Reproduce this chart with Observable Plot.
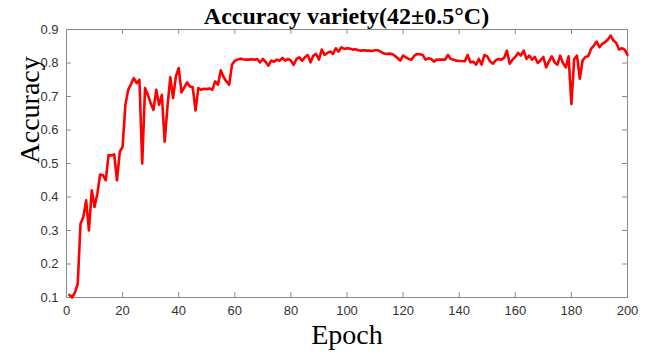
<!DOCTYPE html>
<html>
<head>
<meta charset="utf-8">
<script src="https://cdn.jsdelivr.net/npm/d3@7"></script>
<script src="https://cdn.jsdelivr.net/npm/@observablehq/plot@0.6"></script>
<style>
  html, body { margin: 0; padding: 0; background: #fff; }
  body { position: relative; width: 657px; height: 354px; }
  #title { position: absolute; left: 66px; top: 4px; width: 561px; height: 24px; line-height: 24px; text-align: center;
           font-family: "Liberation Serif", serif; font-weight: bold; font-size: 24px; color: #000; }
  #chart { position: absolute; left: 0; top: 0; }
</style>
</head>
<body>
<div id="chart"></div>
<div id="title"></div>
<script>
const titleText = "Accuracy variety(42±0.5°C)";
const xLabel = "Epoch";
const yLabel = "Accuracy";
const xTicks = [0, 20, 40, 60, 80, 100, 120, 140, 160, 180, 200];
const yTicks = [0.1, 0.2, 0.3, 0.4, 0.5, 0.6, 0.7, 0.8, 0.9];

const epochs = d3.range(1, 201);
const accuracy = [
  0.108, 0.100, 0.115, 0.140, 0.320, 0.340, 0.390, 0.300, 0.420, 0.370,
  0.410, 0.467, 0.465, 0.450, 0.525, 0.524, 0.527, 0.450, 0.535, 0.550,
  0.675, 0.720, 0.737, 0.755, 0.740, 0.750, 0.500, 0.725, 0.705, 0.680,
  0.660, 0.720, 0.675, 0.705, 0.565, 0.670, 0.757, 0.695, 0.760, 0.785,
  0.712, 0.727, 0.742, 0.730, 0.728, 0.658, 0.725, 0.720, 0.723, 0.722,
  0.724, 0.720, 0.745, 0.735, 0.778, 0.758, 0.745, 0.735, 0.795, 0.807,
  0.810, 0.813, 0.811, 0.810, 0.810, 0.811, 0.810, 0.812, 0.802, 0.812,
  0.803, 0.792, 0.807, 0.804, 0.810, 0.807, 0.815, 0.807, 0.812, 0.807,
  0.794, 0.812, 0.817, 0.807, 0.817, 0.824, 0.802, 0.822, 0.827, 0.810,
  0.840, 0.824, 0.830, 0.834, 0.827, 0.844, 0.834, 0.847, 0.842, 0.844,
  0.843, 0.840, 0.841, 0.838, 0.837, 0.838, 0.837, 0.837, 0.836, 0.838,
  0.838, 0.834, 0.829, 0.827, 0.828, 0.827, 0.822, 0.815, 0.807, 0.822,
  0.817, 0.812, 0.810, 0.822, 0.827, 0.826, 0.824, 0.810, 0.814, 0.812,
  0.804, 0.810, 0.810, 0.810, 0.810, 0.824, 0.812, 0.810, 0.807, 0.806,
  0.806, 0.805, 0.824, 0.802, 0.804, 0.795, 0.812, 0.795, 0.824, 0.820,
  0.805, 0.798, 0.808, 0.812, 0.810, 0.815, 0.837, 0.798, 0.810, 0.818,
  0.830, 0.822, 0.837, 0.812, 0.822, 0.810, 0.818, 0.800, 0.808, 0.818,
  0.787, 0.805, 0.820, 0.802, 0.795, 0.822, 0.800, 0.787, 0.820, 0.678,
  0.812, 0.822, 0.753, 0.808, 0.818, 0.820, 0.842, 0.852, 0.864, 0.847,
  0.857, 0.862, 0.870, 0.882, 0.867, 0.860, 0.840, 0.844, 0.840, 0.824
];

document.getElementById("title").textContent = titleText;

const data = epochs.map((e, i) => ({epoch: e, acc: accuracy[i]}));
const axisColor = "#8a8a8a";
const labelColor = "#333";
const W = 657, H = 354, mT = 29, mB = 57, mL = 66, mR = 30;
const plotW = W - mL - mR, plotH = H - mT - mB, tickLen = 5;

const chart = Plot.plot({
  width: W,
  height: H,
  marginTop: mT,
  marginBottom: mB,
  marginLeft: mL,
  marginRight: mR,
  style: {fontFamily: "'Liberation Sans', Arial, sans-serif", fontSize: "13px", color: labelColor, background: "transparent"},
  x: {domain: [0, 200]},
  y: {domain: [0.1, 0.9]},
  marks: [
    Plot.frame({stroke: axisColor}),
    Plot.axisX(xTicks, {anchor: "bottom", tickSize: 0, tickPadding: 8, label: null, fontSize: 13}),
    Plot.axisY(yTicks, {anchor: "left", tickSize: 0, tickPadding: 8, label: null, fontSize: 13, tickFormat: d => String(+d.toFixed(1))}),
    Plot.tickX(xTicks, {x: d => d, insetTop: plotH - tickLen, stroke: axisColor}),
    Plot.tickX(xTicks, {x: d => d, insetBottom: plotH - tickLen, stroke: axisColor}),
    Plot.tickY(yTicks, {y: d => d, insetRight: plotW - tickLen, stroke: axisColor}),
    Plot.tickY(yTicks, {y: d => d, insetLeft: plotW - tickLen, stroke: axisColor}),
    Plot.line(data, {x: "epoch", y: "acc", stroke: "#ff0000", strokeWidth: 2.6, strokeLinejoin: "round"}),
    Plot.text([xLabel], {frameAnchor: "bottom", dy: 46, text: d => d, fontSize: 28, fontFamily: "'Liberation Serif', serif", fill: "#000"}),
    Plot.text([yLabel], {frameAnchor: "left", dx: -36, rotate: -90, text: d => d, fontSize: 28, fontFamily: "'Liberation Serif', serif", fill: "#000"})
  ]
});
document.getElementById("chart").appendChild(chart);
</script>
</body>
</html>
